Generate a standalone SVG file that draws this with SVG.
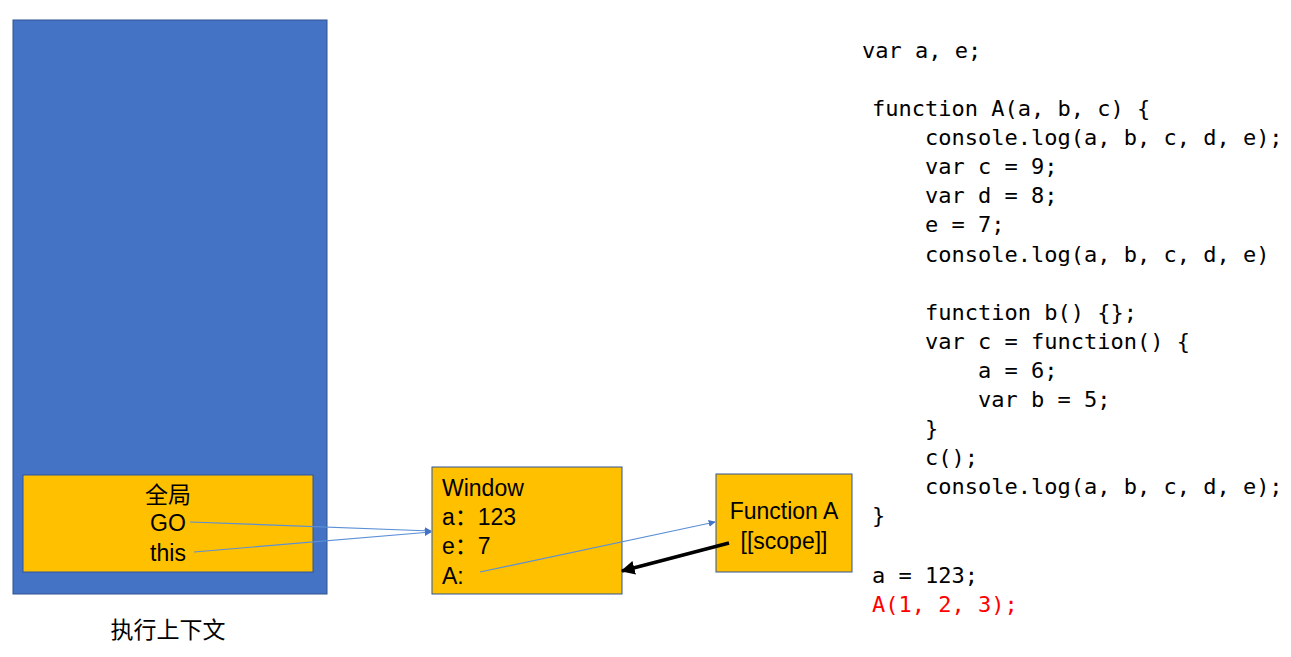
<svg xmlns="http://www.w3.org/2000/svg" width="1291" height="657" viewBox="0 0 1291 657">
<style>
.box{fill:#FFC000;stroke:#2F5597;stroke-width:1}
.t{font-family:"Liberation Sans","Noto Sans CJK SC",sans-serif;font-size:23px;fill:#000}
.code{font-family:"DejaVu Sans Mono","Liberation Mono",monospace;font-size:22px;fill:#000}
.red{fill:#FF0000}
.thin{stroke:#5B8FD6;stroke-width:1.2;fill:none}
</style>
<defs>
<marker id="ab" viewBox="0 0 10 10" refX="9" refY="5" markerWidth="7" markerHeight="7" orient="auto" markerUnits="userSpaceOnUse"><path d="M0,0 L10,5 L0,10 z" fill="#4472C4"/></marker>
<marker id="ak" viewBox="0 0 10 10" refX="9" refY="5" markerWidth="4" markerHeight="4" orient="auto"><path d="M0,0 L10,5 L0,10 z" fill="#000"/></marker>
</defs>
<rect width="1291" height="657" fill="#fff"/>
<g id="stack">
<rect x="13" y="20" width="314" height="574" fill="#4472C4" stroke="#2F528F" stroke-width="1"/>
<text class="t" x="168" y="638" text-anchor="middle" font-size="24">执行上下文</text>
</g>
<g id="global">
<rect class="box" x="23" y="475" width="290" height="97"/>
<text class="t" x="168" y="503" text-anchor="middle">全局</text>
<text class="t" x="168" y="531" text-anchor="middle">GO</text>
<text class="t" x="168" y="561" text-anchor="middle">this</text>
</g>
<g id="window">
<rect class="box" x="432" y="467" width="190" height="127"/>
<text class="t" x="442" y="496">Window</text>
<text class="t" x="442" y="525">a：123</text>
<text class="t" x="442" y="554">e：7</text>
<text class="t" x="442" y="584">A:</text>
</g>
<g id="functionA">
<rect class="box" x="716" y="474" width="136" height="98"/>
<text class="t" x="784" y="519" text-anchor="middle">Function A</text>
<text class="t" x="784" y="549" text-anchor="middle">[[scope]]</text>
</g>
<g id="connectors">
<line class="thin" x1="190" y1="522" x2="431" y2="531" marker-end="url(#ab)"/>
<line class="thin" x1="194" y1="552" x2="431" y2="532" marker-end="url(#ab)"/>
<line class="thin" x1="480" y1="572" x2="715" y2="522" marker-end="url(#ab)"/>
<line x1="729" y1="543" x2="622" y2="571" stroke="#000" stroke-width="3.5" marker-end="url(#ak)"/>
</g>
<g id="code">
<text class="code" x="862" y="58">var a, e;</text>
<text class="code" x="872" y="116">function A(a, b, c) {</text>
<text class="code" x="925" y="145">console.log(a, b, c, d, e);</text>
<text class="code" x="925" y="174">var c = 9;</text>
<text class="code" x="925" y="203">var d = 8;</text>
<text class="code" x="925" y="232">e = 7;</text>
<text class="code" x="925" y="262">console.log(a, b, c, d, e)</text>
<text class="code" x="925" y="320">function b() {};</text>
<text class="code" x="925" y="349">var c = function() {</text>
<text class="code" x="978" y="378">a = 6;</text>
<text class="code" x="978" y="407">var b = 5;</text>
<text class="code" x="925" y="436">}</text>
<text class="code" x="925" y="465">c();</text>
<text class="code" x="925" y="494">console.log(a, b, c, d, e);</text>
<text class="code" x="872" y="523">}</text>
<text class="code" x="872" y="583">a = 123;</text>
<text class="code red" x="872" y="612">A(1, 2, 3);</text>
</g>
</svg>
